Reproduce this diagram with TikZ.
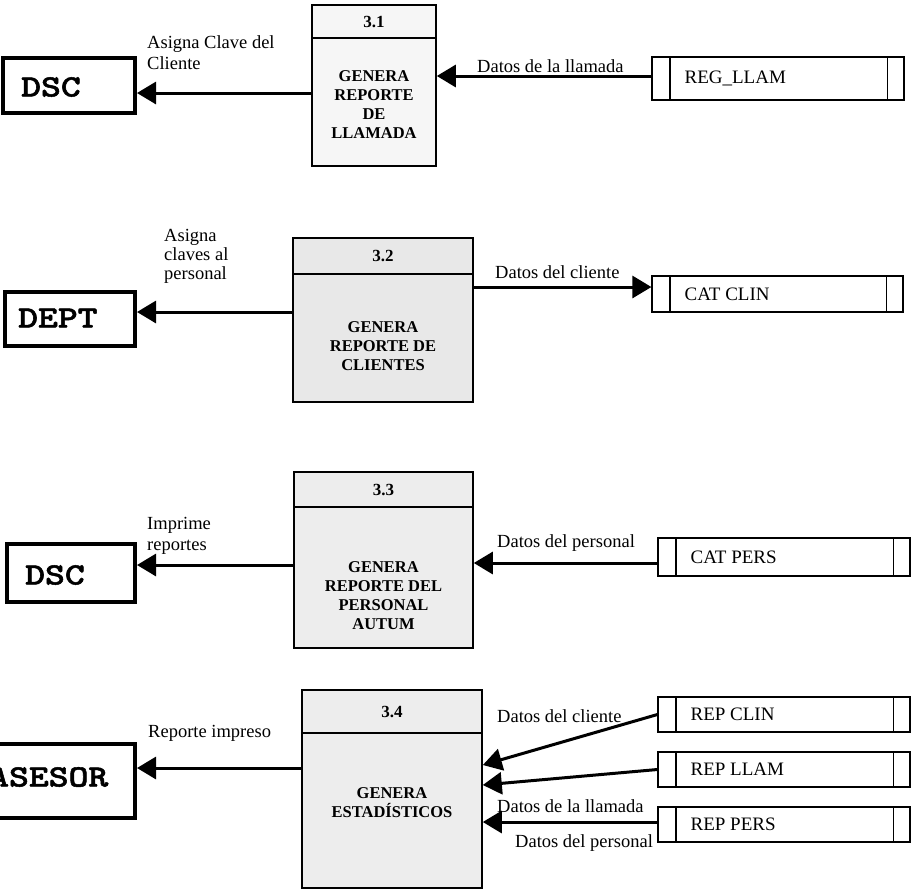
\documentclass[tikz,border=0pt]{standalone}
\usepackage{fontspec}
\usepackage{graphicx}
\setmainfont{Liberation Serif}
\newfontfamily\entfont{lmmonolt10-bold.otf}[FakeBold=1.5]
\usetikzlibrary{arrows.meta}
\begin{document}
\begin{tikzpicture}[x=1pt,y=-1pt,
  ent/.style={draw, line width=4pt, inner sep=0pt},
  enttxt/.style={anchor=west, inner sep=0pt, font=\entfont\fontsize{31}{31}\selectfont},
  proc/.style={draw, line width=1.6pt, inner sep=0pt},
  procline/.style={line width=1.6pt},
  ptitle/.style={inner sep=0pt, font=\bfseries\fontsize{17}{19}\selectfont},
  pbody/.style={inner sep=0pt, align=center, font=\bfseries\fontsize{16.5}{19}\selectfont},
  store/.style={draw, line width=1.2pt, inner sep=0pt},
  storeline/.style={line width=1.2pt},
  storetxt/.style={anchor=west, inner sep=0pt, font=\fontsize{19}{21}\selectfont},
  lbl/.style={inner sep=0pt, align=left, font=\fontsize{18.5}{21}\selectfont},
  flow/.style={line width=3pt, -{Triangle[length=19pt,width=22pt]}}
]
\useasboundingbox (0,0) rectangle (912,892);

% ---------- external entities ----------
\node[ent, minimum width=132pt, minimum height=55pt] (e1) at (69,85.5) {};
\node[enttxt] (e1t) at (21,87) {\scalebox{1.22}[1]{DSC}};
\node[ent, minimum width=130pt, minimum height=54pt] (e2) at (70,319) {};
\node[enttxt] (e2t) at (18,318) {\scalebox{1.22}[1]{DEPT}};
\node[ent, minimum width=128pt, minimum height=58pt] (e3) at (71,573) {};
\node[enttxt] (e3t) at (25,575) {\scalebox{1.22}[1]{DSC}};
\node[ent, minimum width=175pt, minimum height=74pt] (e4) at (47.5,781) {};
\node[enttxt] (e4t) at (-11,777) {\scalebox{1.22}[1]{ASESOR}};

% ---------- processes ----------
\node[proc, fill=gray!7, minimum width=124pt, minimum height=161pt] (p1) at (374,85.5) {};
\draw[procline] ([yshift=-34pt]p1.north west) -- ([yshift=-34pt]p1.north east);
\node[ptitle] (p1n) at (374,22) {3.1};
\node[pbody] (p1b) at (374,105) {\fontsize{16.5}{21.5}\selectfont GENERA\\REPORTE\\DE\\LLAMADA};

\node[proc, fill=gray!18, minimum width=180pt, minimum height=164pt] (p2) at (383,320) {};
\draw[procline] ([yshift=-37pt]p2.north west) -- ([yshift=-37pt]p2.north east);
\node[ptitle] (p2n) at (383,256) {3.2};
\node[pbody] (p2b) at (383,346) {GENERA\\REPORTE DE\\CLIENTES};

\node[proc, fill=gray!14, minimum width=179pt, minimum height=176pt] (p3) at (383.5,560) {};
\draw[procline] ([yshift=-36pt]p3.north west) -- ([yshift=-36pt]p3.north east);
\node[ptitle] (p3n) at (383.5,490) {3.3};
\node[pbody] (p3b) at (383.5,596) {GENERA\\REPORTE DEL\\PERSONAL\\AUTUM};

\node[proc, fill=gray!14, minimum width=180pt, minimum height=198pt] (p4) at (392,789) {};
\draw[procline] ([yshift=-44pt]p4.north west) -- ([yshift=-44pt]p4.north east);
\node[ptitle] (p4n) at (392,712) {3.4};
\node[pbody] (p4b) at (392,803) {GENERA\\ESTADÍSTICOS};

% ---------- data stores ----------
\foreach \n/\cx/\cy/\w/\h/\txt in {
  s1/778/78.5/252/43/REG\_LLAM,
  s2/777.5/294/251/36/CAT CLIN,
  s3/784/557/252/38/CAT PERS,
  s4/784/714.5/252/35/REP CLIN,
  s5/784/769.5/252/35/REP LLAM,
  s6/784/824.5/252/35/REP PERS}{
  \node[store, minimum width=\w pt, minimum height=\h pt] (\n) at (\cx,\cy) {};
  \draw[storeline] ([xshift=18.5pt]\n.north west) -- ([xshift=18.5pt]\n.south west);
  \draw[storeline] ([xshift=-17pt]\n.north east) -- ([xshift=-17pt]\n.south east);
  \node[storetxt] (\n t) at ([xshift=33pt]\n.west) {\txt};
}

% ---------- flows ----------
\draw[flow] (p1.west |- 0,93) -- (e1.east |- 0,93);
\draw[flow] (s1.west |- 0,76) -- (p1.east |- 0,76);
\draw[flow] (p2.west |- 0,312) -- (e2.east |- 0,312);
\draw[flow] (p2.east |- 0,287) -- (s2.west |- 0,287);
\draw[flow] (p3.west |- 0,565) -- (e3.east |- 0,565);
\draw[flow] (s3.west |- 0,563) -- (p3.east |- 0,563);
\draw[flow] (p4.west |- 0,768) -- (e4.east |- 0,768);
\draw[flow] (s4.west) -- (p4.east |- 0,765);
\draw[flow] (s5.west) -- (p4.east |- 0,785);
\draw[flow] (s6.west |- 0,822) -- (p4.east |- 0,822);

% ---------- labels ----------
\node[lbl, anchor=north west] (l1) at (147,35) {Asigna Clave del\\Cliente};
\node[lbl, anchor=base west] (l2) at (477,72) {Datos de la llamada};
\node[lbl, anchor=north west] (l3) at (164,229) {Asigna\\[-2pt]claves al\\[-2pt]personal};
\node[lbl, anchor=base west] (l4) at (495,278) {Datos del cliente};
\node[lbl, anchor=north west] (l5) at (147,517) {Imprime\\reportes};
\node[lbl, anchor=base west] (l6) at (497,547) {Datos del personal};
\node[lbl, anchor=base west] (l7) at (148,737) {Reporte impreso};
\node[lbl, anchor=base west] (l8) at (497,722) {Datos del cliente};
\node[lbl, anchor=base west] (l9) at (497,812) {Datos de la llamada};
\node[lbl, anchor=base west] (l10) at (515,847) {Datos del personal};
\end{tikzpicture}
\end{document}
